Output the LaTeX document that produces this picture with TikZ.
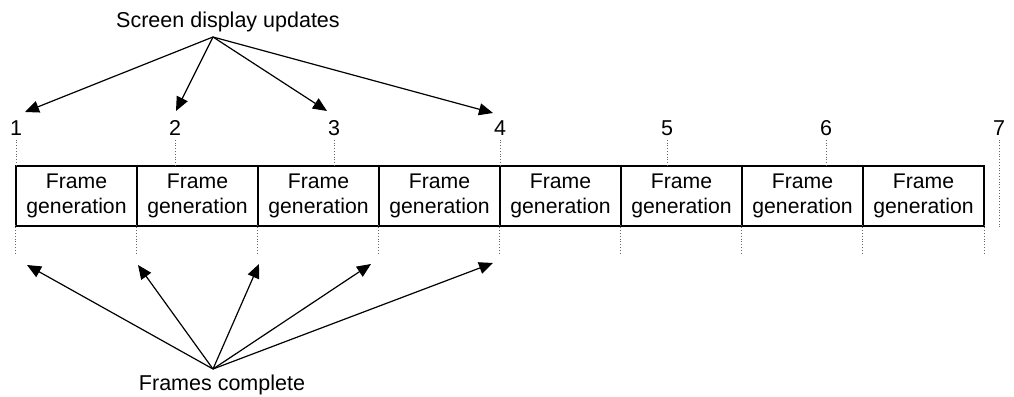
\documentclass[tikz,border=0pt]{standalone}
\usepackage{fontspec}
\setmainfont{Liberation Sans}
\usetikzlibrary{arrows.meta}
\begin{document}
\begin{tikzpicture}[x=1pt,y=-1pt,
  txt/.style={font=\fontsize{21.5}{25}\selectfont, inner sep=0pt},
  framebox/.style={draw, line width=1.3pt, minimum width=121pt, minimum height=60pt,
    inner sep=0pt, align=center, font=\fontsize{21.2}{25}\selectfont},
  dotline/.style={gray!80!black, dotted, line width=0.8pt},
  arr/.style={line width=1.2pt, -{Triangle[length=14pt,width=12pt]}}]
\useasboundingbox (0,0) rectangle (1014,396);
% frame boxes
\foreach \i [evaluate=\i as \cx using 16+121*(\i-1)+60.5] in {1,...,8}
  \node[framebox] (f\i) at (\cx,196) {Frame\\generation};
% numbers
\node[txt] (n1) at (16,128) {1};
\node[txt] (n2) at (175,128) {2};
\node[txt] (n3) at (334,128) {3};
\node[txt] (n4) at (500,128) {4};
\node[txt] (n5) at (667,128) {5};
\node[txt] (n6) at (826,128) {6};
\node[txt] (n7) at (999,128) {7};
% dotted guides above
\foreach \i in {1,...,6}
  \draw[dotline] ([yshift=-4pt]n\i.south) -- (n\i.south |- f1.north);
\draw[dotline] ([yshift=-4pt]n7.south) -- (n7.south |- f1.south);
% dotted guides below
\foreach \i in {1,...,8}
  \draw[dotline] ([yshift=2pt]f\i.south west) -- ++(0,29);
\draw[dotline] ([yshift=2pt]f8.south east) -- ++(0,29);
% labels
\node[txt] (top) at (228,22) {Screen display updates};
\node[txt] (bot) at (222,385) {Frames complete};
\coordinate (src1) at (213,37);
\coordinate (src2) at (213,369);
% top arrows
\coordinate (t1) at (25,112);
\coordinate (t2) at (176,111);
\coordinate (t3) at (327,111);
\coordinate (t4) at (493,113);
\foreach \i in {1,...,4} \draw[arr] (src1) -- (t\i);
% bottom arrows
\coordinate (b1) at (27,265);
\coordinate (b2) at (138,265);
\coordinate (b3) at (259,264);
\coordinate (b4) at (371,264);
\coordinate (b5) at (493,263);
\foreach \i in {1,...,5} \draw[arr] (src2) -- (b\i);
\end{tikzpicture}
\end{document}
